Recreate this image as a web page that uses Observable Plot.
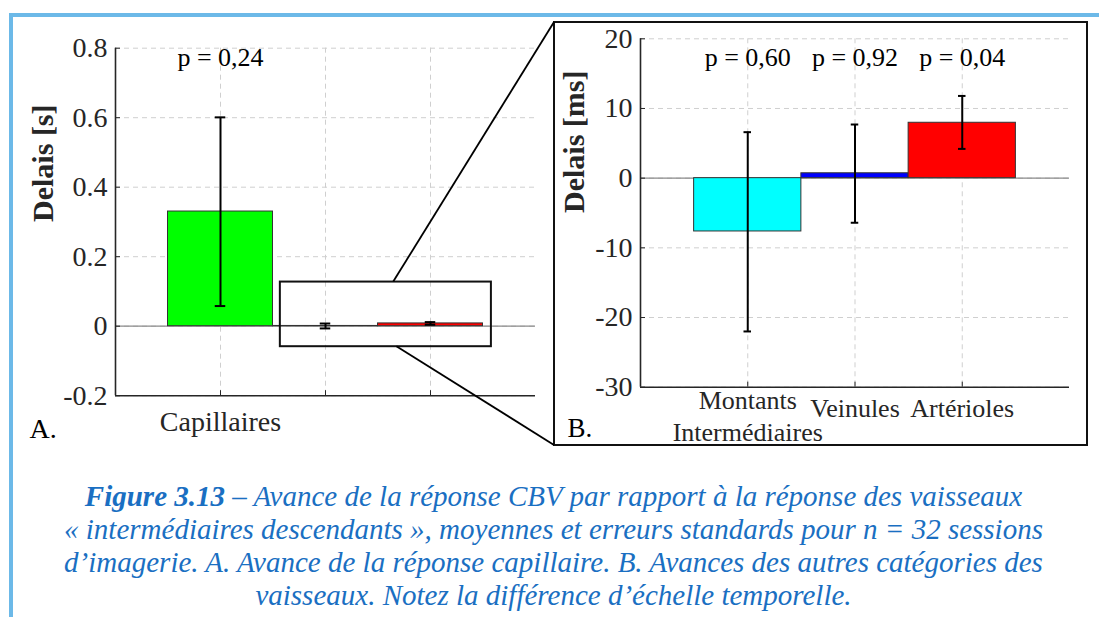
<!DOCTYPE html>
<html>
<head>
<meta charset="utf-8">
<script src="https://cdn.jsdelivr.net/npm/d3@7"></script>
<script src="https://cdn.jsdelivr.net/npm/@observablehq/plot@0.6"></script>
<style>
html, body { margin: 0; padding: 0; background: #fff; }
#wrap { position: relative; width: 1099px; height: 617px; overflow: hidden; background: #fff; }
#frameTop { position: absolute; left: 9px; top: 13px; width: 1090px; height: 4px; background: #6cb9e8; }
#frameLeft { position: absolute; left: 9px; top: 13px; width: 4px; height: 604px; background: #6cb9e8; }
#panelA { position: absolute; left: 0; top: 0; }
#boxB { position: absolute; left: 553px; top: 21px; width: 531px; height: 421px; border: 2px solid #111; background: #fff; }
#panelB { position: absolute; left: 0; top: 0; }
#overlay { position: absolute; left: 0; top: 0; pointer-events: none; }
#caption { position: absolute; left: 8px; width: 1091px; top: 480px; text-align: center;
  font-family: 'Liberation Serif'; font-style: italic; font-size: 29px; line-height: 33px; color: #1a6fc2; }
#caption b { font-weight: bold; }
</style>
</head>
<body>
<div id="wrap">
  <div id="frameTop"></div>
  <div id="frameLeft"></div>
  <div id="panelA"></div>
  <div id="boxB"><div id="panelB"></div></div>
  <svg id="overlay" width="1099" height="617"></svg>
  <div id="caption"><b>Figure 3.13</b> – Avance de la réponse CBV par rapport à la réponse des vaisseaux<br>« intermédiaires descendants », moyennes et erreurs standards pour n = 32 sessions<br>d’imagerie. A. Avance de la réponse capillaire. B. Avances des autres catégories des<br>vaisseaux. Notez la différence d’échelle temporelle.</div>
</div>
<script>
// ---------- Data: panel A (seconds) ----------
const categoriesA = ["Capillaires", "Veinules", "Artérioles"];
const tickLabelsA = ["Capillaires", "", ""];
const meansA = [0.33, 0.0007, 0.008];
const lowsA = [0.058, -0.0064, 0.0042];
const highsA = [0.601, 0.0077, 0.0118];
const colorsA = ["#00ff00", "#0000ff", "#ff0000"];
const pValuesA = ["p = 0,24", "", ""];
const yTicksA = [-0.2, 0, 0.2, 0.4, 0.6, 0.8];
const yDomainA = [-0.2, 0.8];
const yLabelA = "Delais [s]";
const zoomBoxA = [{x1: 1.57, x2: 3.58, y1: -0.059, y2: 0.127}];
const zoomLinkX = [2.65, 2.68];

// ---------- Data: panel B (milliseconds) ----------
const categoriesB = ["Montants\nIntermédiaires", "Veinules", "Artérioles"];
const meansB = [-7.65, 0.7, 7.95];
const lowsB = [-22.0, -6.4, 4.2];
const highsB = [6.6, 7.7, 11.8];
const colorsB = ["#00ffff", "#0000ff", "#ff0000"];
const pValuesB = ["p = 0,60", "p = 0,92", "p = 0,04"];
const yTicksB = [-30, -20, -10, 0, 10, 20];
const yDomainB = [-30, 20];
const yLabelB = "Delais [ms]";

const xDomain = [0, 4];
const xTicks = [1, 2, 3];

const rowsA = categoriesA.map((c, i) => ({pos: i + 1, cat: c, label: tickLabelsA[i], mean: meansA[i], low: lowsA[i], high: highsA[i], color: colorsA[i], p: pValuesA[i]}));
const rowsB = categoriesB.map((c, i) => ({pos: i + 1, label: c, mean: meansB[i], low: lowsB[i], high: highsB[i], color: colorsB[i], p: pValuesB[i]}));

const FONT = "'Liberation Serif'";
const AX = "#262626";
const GRID = {stroke: "#cfcfcf", strokeOpacity: 1, strokeDasharray: "5,4", strokeWidth: 1};

function commonMarks(rows, yTicks, yDomain, cap) {
  return [
    Plot.gridY(yTicks, GRID),
    Plot.gridX(xTicks, GRID),
    Plot.ruleY([0], {stroke: "#8a8a8a", strokeWidth: 1.2}),
    Plot.rectY(rows, {x1: d => d.pos - 0.5, x2: d => d.pos + 0.5, y1: 0, y2: "mean", fill: "color", stroke: "#333", strokeWidth: 1}),
    Plot.ruleX(rows, {x: "pos", y1: "low", y2: "high", stroke: "#000", strokeWidth: 2}),
    Plot.ruleY(rows, {y: "low", x1: d => d.pos - cap, x2: d => d.pos + cap, stroke: "#000", strokeWidth: 2}),
    Plot.ruleY(rows, {y: "high", x1: d => d.pos - cap, x2: d => d.pos + cap, stroke: "#000", strokeWidth: 2}),
    Plot.ruleX([xDomain[0]], {stroke: AX, strokeWidth: 1.6}),
    Plot.ruleY([yDomain[0]], {stroke: AX, strokeWidth: 1.6}),
    Plot.axisY(yTicks, {tickSize: -5, tickPadding: 13, tickFormat: d => String(d), fontSize: 28, fontFamily: FONT, fill: AX, stroke: AX, label: null}),
    Plot.axisX(xTicks, {tickSize: -5, tickFormat: () => "", stroke: AX, label: null})
  ];
}

const chartA = Plot.plot({
  width: 545, height: 450,
  marginLeft: 115, marginRight: 10, marginTop: 47.7, marginBottom: 54.8,
  x: {domain: xDomain, axis: null, label: null},
  y: {domain: yDomainA, axis: null, label: null},
  color: {type: "identity"},
  style: {fontFamily: FONT, color: AX, background: "transparent", overflow: "visible"},
  marks: [
    ...commonMarks(rowsA, yTicksA, yDomainA, 0.05),
    Plot.rect(zoomBoxA, {x1: "x1", x2: "x2", y1: "y1", y2: "y2", fill: "none", stroke: "#111", strokeWidth: 2}),
    Plot.text(rowsA.filter(d => d.label), {x: "pos", y: yDomainA[0], text: "label", lineAnchor: "bottom", dy: 34.8, fontSize: 28, fontFamily: FONT, fill: AX}),
    Plot.text(rowsA.filter(d => d.p), {x: "pos", y: yDomainA[1], text: "p", lineAnchor: "bottom", dy: 17.3, fontSize: 26, fontFamily: FONT, fill: "#000"}),
    Plot.text([yLabelA], {frameAnchor: "left", rotate: -90, dx: -72, fontSize: 30, fontWeight: "bold", fontFamily: FONT, lineAnchor: "middle", fill: AX}),
    Plot.text(["A."], {frameAnchor: "bottom-left", dx: -86, dy: 41.8, textAnchor: "start", lineAnchor: "bottom", fontSize: 28, fontFamily: FONT, fill: "#000"})
  ]
});
document.getElementById("panelA").appendChild(chartA);

const chartB = Plot.plot({
  width: 531, height: 421,
  marginLeft: 85, marginRight: 17, marginTop: 15.3, marginBottom: 57.3,
  x: {domain: xDomain, axis: null, label: null},
  y: {domain: yDomainB, axis: null, label: null},
  color: {type: "identity"},
  style: {fontFamily: FONT, color: AX, background: "transparent", overflow: "visible"},
  marks: [
    ...commonMarks(rowsB, yTicksB, yDomainB, 0.035),
    Plot.text(rowsB.filter(d => d.label.includes("\n")), {x: "pos", y: yDomainB[0], text: "label", lineAnchor: "bottom", dy: 54, lineHeight: 1.22, fontSize: 26, fontFamily: FONT, fill: AX}),
    Plot.text(rowsB.filter(d => !d.label.includes("\n")), {x: "pos", y: yDomainB[0], text: "label", lineAnchor: "bottom", dy: 29.8, fontSize: 26, fontFamily: FONT, fill: AX}),
    Plot.text(rowsB, {x: "pos", y: yDomainB[1], text: "p", lineAnchor: "bottom", dy: 26.7, fontSize: 26, fontFamily: FONT, fill: "#000"}),
    Plot.text([yLabelB], {frameAnchor: "left", rotate: -90, dx: -66, fontSize: 30, fontWeight: "bold", fontFamily: FONT, lineAnchor: "middle", fill: AX}),
    Plot.text(["B."], {frameAnchor: "bottom-left", dx: -73, dy: 50, textAnchor: "start", lineAnchor: "bottom", fontSize: 27, fontFamily: FONT, fill: "#000"})
  ]
});
document.getElementById("panelB").appendChild(chartB);

// zoom connector lines from panel A's inset box to panel B's frame
(function () {
  const sx = chartA.scale("x"), sy = chartA.scale("y");
  const wrap = document.getElementById("wrap").getBoundingClientRect();
  const box = document.getElementById("boxB").getBoundingClientRect();
  const bl = box.left - wrap.left + 1, bt = box.top - wrap.top + 1, bb = box.bottom - wrap.top - 1;
  const svg = d3.select("#overlay");
  const pts = [
    [sx.apply(zoomLinkX[0]), sy.apply(zoomBoxA[0].y2), bl, bt],
    [sx.apply(zoomLinkX[1]), sy.apply(zoomBoxA[0].y1), bl, bb]
  ];
  svg.selectAll("line").data(pts).join("line")
    .attr("x1", d => d[0]).attr("y1", d => d[1]).attr("x2", d => d[2]).attr("y2", d => d[3])
    .attr("stroke", "#000").attr("stroke-width", 1.8);
})();
</script>
</body>
</html>
